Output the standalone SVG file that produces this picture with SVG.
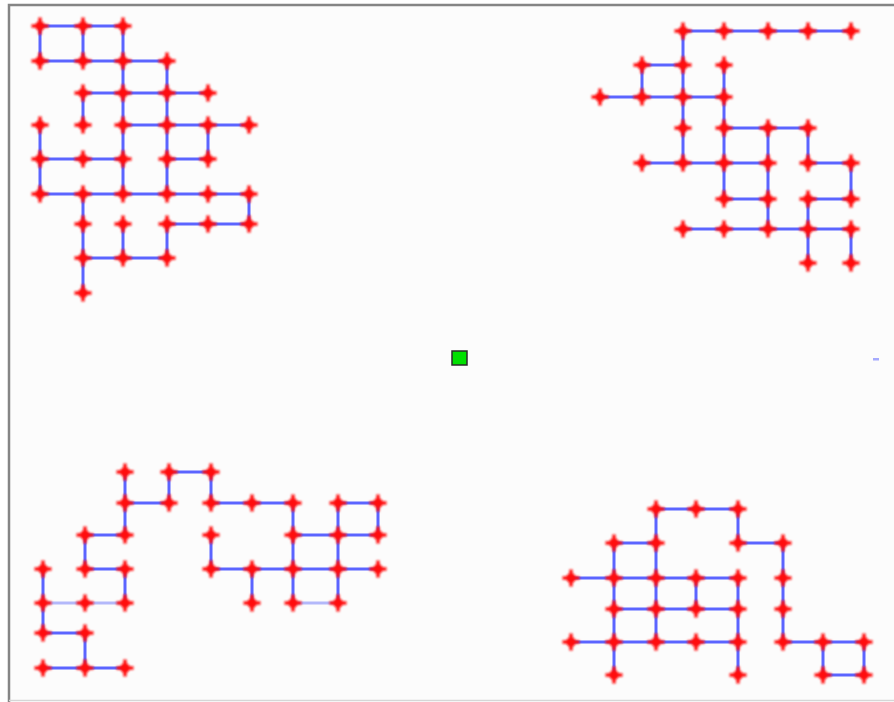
<svg xmlns="http://www.w3.org/2000/svg" xmlns:xlink="http://www.w3.org/1999/xlink" width="894" height="702" viewBox="0 0 894 702">
<style>
.e{fill:none;stroke:#5b64ff;stroke-width:3;stroke-linecap:butt}
.l{fill:none;stroke:#b3b8fa;stroke-width:3}
.n{fill:#ff1010}
</style>
<defs>
<filter id="b" x="-50%" y="-50%" width="200%" height="200%"><feGaussianBlur stdDeviation="0.95"/></filter>
<g id="s" class="n" filter="url(#b)"><circle r="4.8"/><path d="M-1.7,-8.5h3.4v6.8h6.8v3.4h-6.8v6.8h-3.4v-6.8h-6.8v-3.4h6.8z"/></g>
</defs>
<rect width="894" height="702" fill="#fff"/>
<rect x="9" y="5" width="885" height="696" fill="#fcfcfc"/>
<path d="M9 702V5H894" fill="none" stroke="#858585" stroke-width="2.5"/>
<path d="M9 700.5H894" fill="none" stroke="#d6d6d6" stroke-width="1.5"/>
<g id="connectors">
<path class="e" d="M40 26H123M40 61H167M83 93H208M123 125H249M40 159H123M167 159H208M40 194H249M167 224H249M83 258H167M40 26V61M83 26V61M123 26V194M167 61V194M83 93V125M208 125V159M40 125V194M83 194V293M249 194V224M123 224V258M167 224V258"/>
<path class="e" d="M683 31H851M642 65H683M600 97H724M724 128H808M642 163H768M808 163H851M724 199H768M808 199H851M683 229H851M683 31V163M642 65V97M724 65V199M768 128V229M808 128V163M851 163V199M808 199V263M851 229V263"/>
<path class="e" d="M169 472H211M125 503H169M211 503H293M338 503H378M85 535H125M293 535H378M85 569H125M211 569H378M43 633H85M43 668H125M125 472V535M169 472V503M211 472V503M293 503V603M338 503V603M378 503V535M85 535V569M211 535V569M43 569V633M125 569V603M252 569V603M85 633V668"/>
<path class="l" d="M43 603H125M293 603H338"/>
<path class="e" d="M656 509H738M614 543H656M738 543H783M571 578H738M614 609H738M571 642H738M783 642H864M823 675H864M656 509V642M738 509V543M614 543V675M783 543V642M696 578V609M738 578V675M823 642V675M864 642V675"/>
</g>
<g id="tl">
<g id="tl-1"><use xlink:href="#s" x="40" y="26"/></g>
<g id="tl-2"><use xlink:href="#s" x="83" y="26"/></g>
<g id="tl-3"><use xlink:href="#s" x="123" y="26"/></g>
<g id="tl-4"><use xlink:href="#s" x="40" y="61"/></g>
<g id="tl-5"><use xlink:href="#s" x="83" y="61"/></g>
<g id="tl-6"><use xlink:href="#s" x="123" y="61"/></g>
<g id="tl-7"><use xlink:href="#s" x="167" y="61"/></g>
<g id="tl-8"><use xlink:href="#s" x="83" y="93"/></g>
<g id="tl-9"><use xlink:href="#s" x="123" y="93"/></g>
<g id="tl-10"><use xlink:href="#s" x="167" y="93"/></g>
<g id="tl-11"><use xlink:href="#s" x="208" y="93"/></g>
<g id="tl-12"><use xlink:href="#s" x="40" y="125"/></g>
<g id="tl-13"><use xlink:href="#s" x="83" y="125"/></g>
<g id="tl-14"><use xlink:href="#s" x="123" y="125"/></g>
<g id="tl-15"><use xlink:href="#s" x="167" y="125"/></g>
<g id="tl-16"><use xlink:href="#s" x="208" y="125"/></g>
<g id="tl-17"><use xlink:href="#s" x="249" y="125"/></g>
<g id="tl-18"><use xlink:href="#s" x="40" y="159"/></g>
<g id="tl-19"><use xlink:href="#s" x="83" y="159"/></g>
<g id="tl-20"><use xlink:href="#s" x="123" y="159"/></g>
<g id="tl-21"><use xlink:href="#s" x="167" y="159"/></g>
<g id="tl-22"><use xlink:href="#s" x="208" y="159"/></g>
<g id="tl-23"><use xlink:href="#s" x="40" y="194"/></g>
<g id="tl-24"><use xlink:href="#s" x="83" y="194"/></g>
<g id="tl-25"><use xlink:href="#s" x="123" y="194"/></g>
<g id="tl-26"><use xlink:href="#s" x="167" y="194"/></g>
<g id="tl-27"><use xlink:href="#s" x="208" y="194"/></g>
<g id="tl-28"><use xlink:href="#s" x="249" y="194"/></g>
<g id="tl-29"><use xlink:href="#s" x="83" y="224"/></g>
<g id="tl-30"><use xlink:href="#s" x="123" y="224"/></g>
<g id="tl-31"><use xlink:href="#s" x="167" y="224"/></g>
<g id="tl-32"><use xlink:href="#s" x="208" y="224"/></g>
<g id="tl-33"><use xlink:href="#s" x="249" y="224"/></g>
<g id="tl-34"><use xlink:href="#s" x="83" y="258"/></g>
<g id="tl-35"><use xlink:href="#s" x="123" y="258"/></g>
<g id="tl-36"><use xlink:href="#s" x="167" y="258"/></g>
<g id="tl-37"><use xlink:href="#s" x="83" y="293"/></g>
</g>
<g id="tr">
<g id="tr-1"><use xlink:href="#s" x="683" y="31"/></g>
<g id="tr-2"><use xlink:href="#s" x="724" y="31"/></g>
<g id="tr-3"><use xlink:href="#s" x="768" y="31"/></g>
<g id="tr-4"><use xlink:href="#s" x="808" y="31"/></g>
<g id="tr-5"><use xlink:href="#s" x="851" y="31"/></g>
<g id="tr-6"><use xlink:href="#s" x="642" y="65"/></g>
<g id="tr-7"><use xlink:href="#s" x="683" y="65"/></g>
<g id="tr-8"><use xlink:href="#s" x="724" y="65"/></g>
<g id="tr-9"><use xlink:href="#s" x="600" y="97"/></g>
<g id="tr-10"><use xlink:href="#s" x="642" y="97"/></g>
<g id="tr-11"><use xlink:href="#s" x="683" y="97"/></g>
<g id="tr-12"><use xlink:href="#s" x="724" y="97"/></g>
<g id="tr-13"><use xlink:href="#s" x="683" y="128"/></g>
<g id="tr-14"><use xlink:href="#s" x="724" y="128"/></g>
<g id="tr-15"><use xlink:href="#s" x="768" y="128"/></g>
<g id="tr-16"><use xlink:href="#s" x="808" y="128"/></g>
<g id="tr-17"><use xlink:href="#s" x="642" y="163"/></g>
<g id="tr-18"><use xlink:href="#s" x="683" y="163"/></g>
<g id="tr-19"><use xlink:href="#s" x="724" y="163"/></g>
<g id="tr-20"><use xlink:href="#s" x="768" y="163"/></g>
<g id="tr-21"><use xlink:href="#s" x="808" y="163"/></g>
<g id="tr-22"><use xlink:href="#s" x="851" y="163"/></g>
<g id="tr-23"><use xlink:href="#s" x="724" y="199"/></g>
<g id="tr-24"><use xlink:href="#s" x="768" y="199"/></g>
<g id="tr-25"><use xlink:href="#s" x="808" y="199"/></g>
<g id="tr-26"><use xlink:href="#s" x="851" y="199"/></g>
<g id="tr-27"><use xlink:href="#s" x="683" y="229"/></g>
<g id="tr-28"><use xlink:href="#s" x="724" y="229"/></g>
<g id="tr-29"><use xlink:href="#s" x="768" y="229"/></g>
<g id="tr-30"><use xlink:href="#s" x="808" y="229"/></g>
<g id="tr-31"><use xlink:href="#s" x="851" y="229"/></g>
<g id="tr-32"><use xlink:href="#s" x="808" y="263"/></g>
<g id="tr-33"><use xlink:href="#s" x="851" y="263"/></g>
</g>
<g id="bl">
<g id="bl-1"><use xlink:href="#s" x="125" y="472"/></g>
<g id="bl-2"><use xlink:href="#s" x="169" y="472"/></g>
<g id="bl-3"><use xlink:href="#s" x="211" y="472"/></g>
<g id="bl-4"><use xlink:href="#s" x="125" y="503"/></g>
<g id="bl-5"><use xlink:href="#s" x="169" y="503"/></g>
<g id="bl-6"><use xlink:href="#s" x="211" y="503"/></g>
<g id="bl-7"><use xlink:href="#s" x="252" y="503"/></g>
<g id="bl-8"><use xlink:href="#s" x="293" y="503"/></g>
<g id="bl-9"><use xlink:href="#s" x="338" y="503"/></g>
<g id="bl-10"><use xlink:href="#s" x="378" y="503"/></g>
<g id="bl-11"><use xlink:href="#s" x="85" y="535"/></g>
<g id="bl-12"><use xlink:href="#s" x="125" y="535"/></g>
<g id="bl-13"><use xlink:href="#s" x="211" y="535"/></g>
<g id="bl-14"><use xlink:href="#s" x="293" y="535"/></g>
<g id="bl-15"><use xlink:href="#s" x="338" y="535"/></g>
<g id="bl-16"><use xlink:href="#s" x="378" y="535"/></g>
<g id="bl-17"><use xlink:href="#s" x="43" y="569"/></g>
<g id="bl-18"><use xlink:href="#s" x="85" y="569"/></g>
<g id="bl-19"><use xlink:href="#s" x="125" y="569"/></g>
<g id="bl-20"><use xlink:href="#s" x="211" y="569"/></g>
<g id="bl-21"><use xlink:href="#s" x="252" y="569"/></g>
<g id="bl-22"><use xlink:href="#s" x="293" y="569"/></g>
<g id="bl-23"><use xlink:href="#s" x="338" y="569"/></g>
<g id="bl-24"><use xlink:href="#s" x="378" y="569"/></g>
<g id="bl-25"><use xlink:href="#s" x="43" y="603"/></g>
<g id="bl-26"><use xlink:href="#s" x="85" y="603"/></g>
<g id="bl-27"><use xlink:href="#s" x="125" y="603"/></g>
<g id="bl-28"><use xlink:href="#s" x="252" y="603"/></g>
<g id="bl-29"><use xlink:href="#s" x="293" y="603"/></g>
<g id="bl-30"><use xlink:href="#s" x="338" y="603"/></g>
<g id="bl-31"><use xlink:href="#s" x="43" y="633"/></g>
<g id="bl-32"><use xlink:href="#s" x="85" y="633"/></g>
<g id="bl-33"><use xlink:href="#s" x="43" y="668"/></g>
<g id="bl-34"><use xlink:href="#s" x="85" y="668"/></g>
<g id="bl-35"><use xlink:href="#s" x="125" y="668"/></g>
</g>
<g id="br">
<g id="br-1"><use xlink:href="#s" x="656" y="509"/></g>
<g id="br-2"><use xlink:href="#s" x="696" y="509"/></g>
<g id="br-3"><use xlink:href="#s" x="738" y="509"/></g>
<g id="br-4"><use xlink:href="#s" x="614" y="543"/></g>
<g id="br-5"><use xlink:href="#s" x="656" y="543"/></g>
<g id="br-6"><use xlink:href="#s" x="738" y="543"/></g>
<g id="br-7"><use xlink:href="#s" x="783" y="543"/></g>
<g id="br-8"><use xlink:href="#s" x="571" y="578"/></g>
<g id="br-9"><use xlink:href="#s" x="614" y="578"/></g>
<g id="br-10"><use xlink:href="#s" x="656" y="578"/></g>
<g id="br-11"><use xlink:href="#s" x="696" y="578"/></g>
<g id="br-12"><use xlink:href="#s" x="738" y="578"/></g>
<g id="br-13"><use xlink:href="#s" x="783" y="578"/></g>
<g id="br-14"><use xlink:href="#s" x="614" y="609"/></g>
<g id="br-15"><use xlink:href="#s" x="656" y="609"/></g>
<g id="br-16"><use xlink:href="#s" x="696" y="609"/></g>
<g id="br-17"><use xlink:href="#s" x="738" y="609"/></g>
<g id="br-18"><use xlink:href="#s" x="783" y="609"/></g>
<g id="br-19"><use xlink:href="#s" x="571" y="642"/></g>
<g id="br-20"><use xlink:href="#s" x="614" y="642"/></g>
<g id="br-21"><use xlink:href="#s" x="656" y="642"/></g>
<g id="br-22"><use xlink:href="#s" x="696" y="642"/></g>
<g id="br-23"><use xlink:href="#s" x="738" y="642"/></g>
<g id="br-24"><use xlink:href="#s" x="783" y="642"/></g>
<g id="br-25"><use xlink:href="#s" x="823" y="642"/></g>
<g id="br-26"><use xlink:href="#s" x="864" y="642"/></g>
<g id="br-27"><use xlink:href="#s" x="614" y="675"/></g>
<g id="br-28"><use xlink:href="#s" x="738" y="675"/></g>
<g id="br-29"><use xlink:href="#s" x="823" y="675"/></g>
<g id="br-30"><use xlink:href="#s" x="864" y="675"/></g>
</g>
<g id="center"><rect x="452" y="351" width="15" height="14" fill="#00e000" stroke="#2a2a2a" stroke-width="1.5"/></g>
<g id="dash"><rect x="873" y="358" width="6" height="2.5" fill="#8088ff" opacity="0.7"/></g>
</svg>
